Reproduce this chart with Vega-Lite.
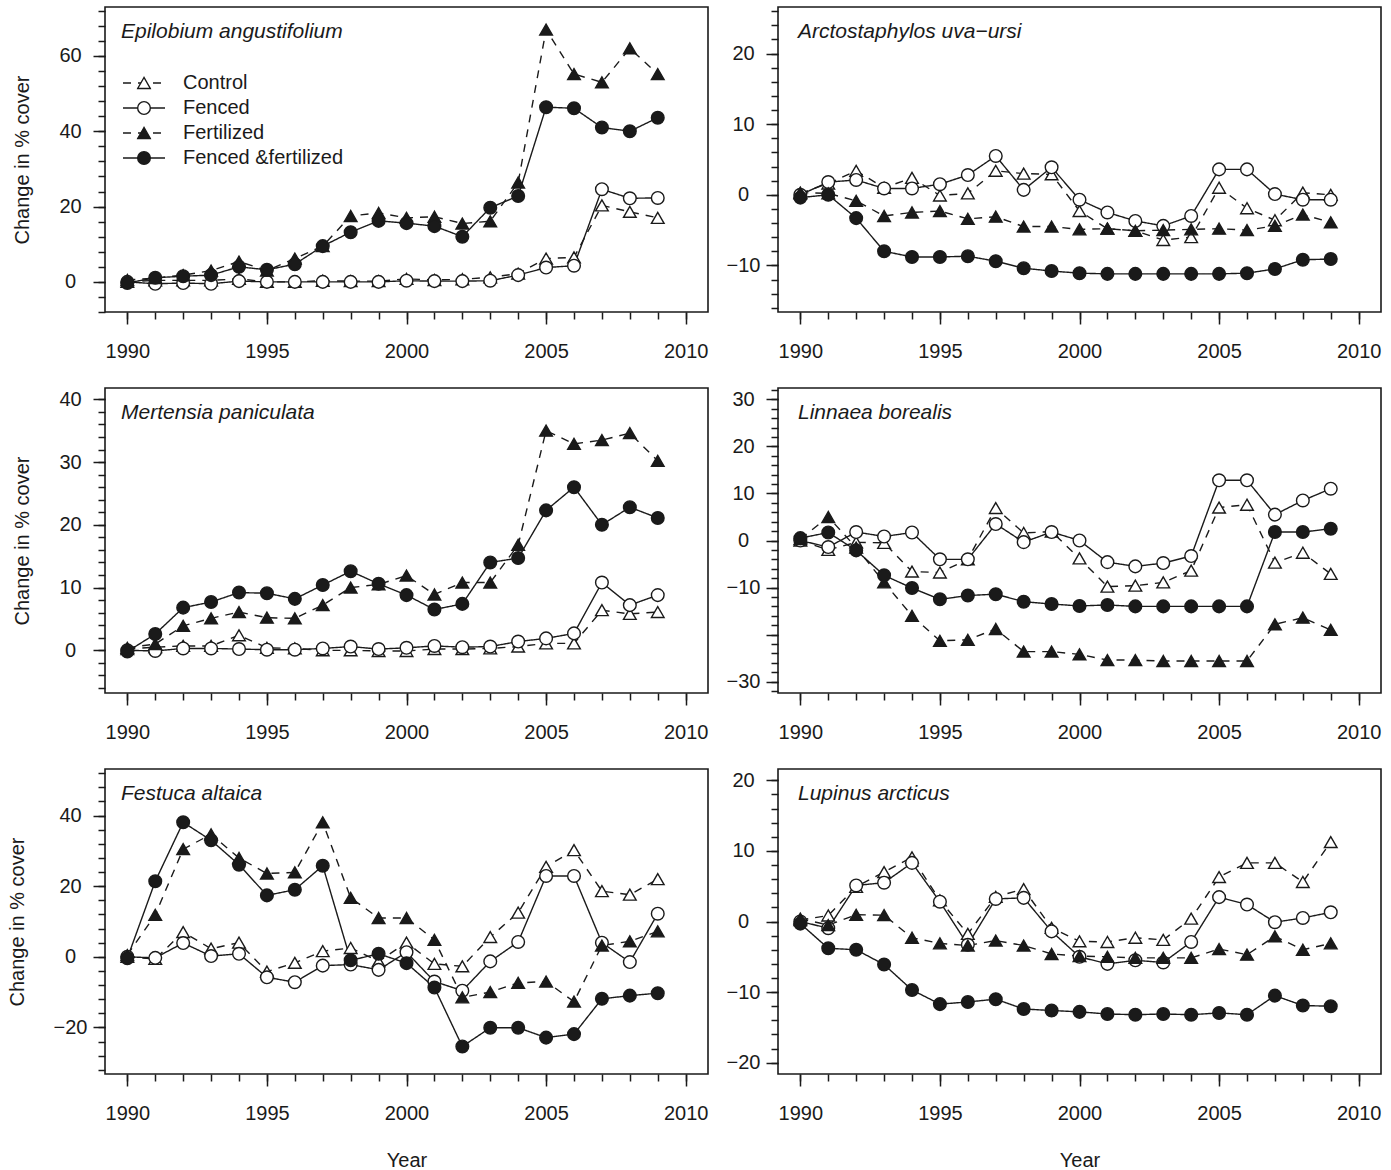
{
  "$schema": "https://vega.github.io/schema/vega-lite/v6.json",
  "background": "white",
  "padding": {"left": 6, "top": 6, "right": 5, "bottom": 5},
  "config": {
    "font": "Liberation Sans",
    "view": {"stroke": "#1a1a1a", "strokeWidth": 1.6},
    "axis": {
      "grid": false, "domain": false,
      "labelFont": "Liberation Sans", "labelFontSize": 20, "labelColor": "#1a1a1a",
      "tickColor": "#1a1a1a", "tickWidth": 1.5,
      "titleFont": "Liberation Sans", "titleFontSize": 20, "titleFontWeight": "normal", "titleColor": "#1a1a1a"
    },
    "legend": {"labelFont": "Liberation Sans", "labelColor": "#1a1a1a"},
    "title": {
      "font": "Liberation Sans", "fontSize": 21, "fontStyle": "italic", "fontWeight": "normal",
      "color": "#1a1a1a", "anchor": "start", "frame": "group", "offset": -35, "baseline": "alphabetic"
    }
  },
  "datasets": {
    "epilobium": [
      {"treatment":"Control","year":1990,"value":0},{"treatment":"Control","year":1991,"value":0.4},{"treatment":"Control","year":1992,"value":0.4},{"treatment":"Control","year":1993,"value":0.4},{"treatment":"Control","year":1994,"value":0.8},{"treatment":"Control","year":1995,"value":0},{"treatment":"Control","year":1996,"value":0},{"treatment":"Control","year":1997,"value":0.3},{"treatment":"Control","year":1998,"value":0.2},{"treatment":"Control","year":1999,"value":0.2},{"treatment":"Control","year":2000,"value":0.8},{"treatment":"Control","year":2001,"value":0.5},{"treatment":"Control","year":2002,"value":0.7},{"treatment":"Control","year":2003,"value":1.2},{"treatment":"Control","year":2004,"value":2.2},{"treatment":"Control","year":2005,"value":6.2},{"treatment":"Control","year":2006,"value":6.5},{"treatment":"Control","year":2007,"value":20.3},{"treatment":"Control","year":2008,"value":18.6},{"treatment":"Control","year":2009,"value":17.0},
      {"treatment":"Fenced","year":1990,"value":0},{"treatment":"Fenced","year":1991,"value":-0.5},{"treatment":"Fenced","year":1992,"value":-0.3},{"treatment":"Fenced","year":1993,"value":-0.5},{"treatment":"Fenced","year":1994,"value":0.2},{"treatment":"Fenced","year":1995,"value":0},{"treatment":"Fenced","year":1996,"value":0},{"treatment":"Fenced","year":1997,"value":0},{"treatment":"Fenced","year":1998,"value":0},{"treatment":"Fenced","year":1999,"value":0},{"treatment":"Fenced","year":2000,"value":0.3},{"treatment":"Fenced","year":2001,"value":0.2},{"treatment":"Fenced","year":2002,"value":0.2},{"treatment":"Fenced","year":2003,"value":0.3},{"treatment":"Fenced","year":2004,"value":1.8},{"treatment":"Fenced","year":2005,"value":3.8},{"treatment":"Fenced","year":2006,"value":4.3},{"treatment":"Fenced","year":2007,"value":24.6},{"treatment":"Fenced","year":2008,"value":22.2},{"treatment":"Fenced","year":2009,"value":22.3},
      {"treatment":"Fertilized","year":1990,"value":0.5},{"treatment":"Fertilized","year":1991,"value":1.0},{"treatment":"Fertilized","year":1992,"value":1.8},{"treatment":"Fertilized","year":1993,"value":3.0},{"treatment":"Fertilized","year":1994,"value":5.4},{"treatment":"Fertilized","year":1995,"value":3.0},{"treatment":"Fertilized","year":1996,"value":6.2},{"treatment":"Fertilized","year":1997,"value":9.5},{"treatment":"Fertilized","year":1998,"value":17.5},{"treatment":"Fertilized","year":1999,"value":18.3},{"treatment":"Fertilized","year":2000,"value":17.0},{"treatment":"Fertilized","year":2001,"value":17.3},{"treatment":"Fertilized","year":2002,"value":15.5},{"treatment":"Fertilized","year":2003,"value":16.1},{"treatment":"Fertilized","year":2004,"value":26.4},{"treatment":"Fertilized","year":2005,"value":67.0},{"treatment":"Fertilized","year":2006,"value":55.2},{"treatment":"Fertilized","year":2007,"value":53.0},{"treatment":"Fertilized","year":2008,"value":62.0},{"treatment":"Fertilized","year":2009,"value":55.2},
      {"treatment":"Fenced &fertilized","year":1990,"value":-0.3},{"treatment":"Fenced &fertilized","year":1991,"value":1.1},{"treatment":"Fenced &fertilized","year":1992,"value":1.5},{"treatment":"Fenced &fertilized","year":1993,"value":1.8},{"treatment":"Fenced &fertilized","year":1994,"value":4.0},{"treatment":"Fenced &fertilized","year":1995,"value":3.2},{"treatment":"Fenced &fertilized","year":1996,"value":4.7},{"treatment":"Fenced &fertilized","year":1997,"value":9.5},{"treatment":"Fenced &fertilized","year":1998,"value":13.2},{"treatment":"Fenced &fertilized","year":1999,"value":16.2},{"treatment":"Fenced &fertilized","year":2000,"value":15.6},{"treatment":"Fenced &fertilized","year":2001,"value":14.8},{"treatment":"Fenced &fertilized","year":2002,"value":12.0},{"treatment":"Fenced &fertilized","year":2003,"value":19.7},{"treatment":"Fenced &fertilized","year":2004,"value":22.8},{"treatment":"Fenced &fertilized","year":2005,"value":46.4},{"treatment":"Fenced &fertilized","year":2006,"value":46.1},{"treatment":"Fenced &fertilized","year":2007,"value":41.0},{"treatment":"Fenced &fertilized","year":2008,"value":40.0},{"treatment":"Fenced &fertilized","year":2009,"value":43.6}
    ],
    "arctostaphylos": [
      {"treatment":"Control","year":1990,"value":0.2},{"treatment":"Control","year":1991,"value":1.6},{"treatment":"Control","year":1992,"value":3.4},{"treatment":"Control","year":1993,"value":1.0},{"treatment":"Control","year":1994,"value":2.4},{"treatment":"Control","year":1995,"value":-0.1},{"treatment":"Control","year":1996,"value":0.2},{"treatment":"Control","year":1997,"value":3.4},{"treatment":"Control","year":1998,"value":3.0},{"treatment":"Control","year":1999,"value":2.9},{"treatment":"Control","year":2000,"value":-2.3},{"treatment":"Control","year":2001,"value":-4.8},{"treatment":"Control","year":2002,"value":-5.1},{"treatment":"Control","year":2003,"value":-6.4},{"treatment":"Control","year":2004,"value":-6.0},{"treatment":"Control","year":2005,"value":1.0},{"treatment":"Control","year":2006,"value":-1.9},{"treatment":"Control","year":2007,"value":-3.6},{"treatment":"Control","year":2008,"value":0.3},{"treatment":"Control","year":2009,"value":0},
      {"treatment":"Fenced","year":1990,"value":0},{"treatment":"Fenced","year":1991,"value":1.8},{"treatment":"Fenced","year":1992,"value":2.1},{"treatment":"Fenced","year":1993,"value":0.9},{"treatment":"Fenced","year":1994,"value":0.9},{"treatment":"Fenced","year":1995,"value":1.5},{"treatment":"Fenced","year":1996,"value":2.8},{"treatment":"Fenced","year":1997,"value":5.5},{"treatment":"Fenced","year":1998,"value":0.7},{"treatment":"Fenced","year":1999,"value":3.9},{"treatment":"Fenced","year":2000,"value":-0.7},{"treatment":"Fenced","year":2001,"value":-2.5},{"treatment":"Fenced","year":2002,"value":-3.7},{"treatment":"Fenced","year":2003,"value":-4.4},{"treatment":"Fenced","year":2004,"value":-3.0},{"treatment":"Fenced","year":2005,"value":3.6},{"treatment":"Fenced","year":2006,"value":3.6},{"treatment":"Fenced","year":2007,"value":0.1},{"treatment":"Fenced","year":2008,"value":-0.7},{"treatment":"Fenced","year":2009,"value":-0.7},
      {"treatment":"Fertilized","year":1990,"value":0.3},{"treatment":"Fertilized","year":1991,"value":0.2},{"treatment":"Fertilized","year":1992,"value":-0.85},{"treatment":"Fertilized","year":1993,"value":-3.0},{"treatment":"Fertilized","year":1994,"value":-2.5},{"treatment":"Fertilized","year":1995,"value":-2.3},{"treatment":"Fertilized","year":1996,"value":-3.4},{"treatment":"Fertilized","year":1997,"value":-3.1},{"treatment":"Fertilized","year":1998,"value":-4.5},{"treatment":"Fertilized","year":1999,"value":-4.5},{"treatment":"Fertilized","year":2000,"value":-4.9},{"treatment":"Fertilized","year":2001,"value":-4.8},{"treatment":"Fertilized","year":2002,"value":-5.1},{"treatment":"Fertilized","year":2003,"value":-5.0},{"treatment":"Fertilized","year":2004,"value":-4.9},{"treatment":"Fertilized","year":2005,"value":-4.8},{"treatment":"Fertilized","year":2006,"value":-5.0},{"treatment":"Fertilized","year":2007,"value":-4.4},{"treatment":"Fertilized","year":2008,"value":-2.8},{"treatment":"Fertilized","year":2009,"value":-3.9},
      {"treatment":"Fenced &fertilized","year":1990,"value":-0.4},{"treatment":"Fenced &fertilized","year":1991,"value":0},{"treatment":"Fenced &fertilized","year":1992,"value":-3.3},{"treatment":"Fenced &fertilized","year":1993,"value":-8.0},{"treatment":"Fenced &fertilized","year":1994,"value":-8.8},{"treatment":"Fenced &fertilized","year":1995,"value":-8.8},{"treatment":"Fenced &fertilized","year":1996,"value":-8.7},{"treatment":"Fenced &fertilized","year":1997,"value":-9.4},{"treatment":"Fenced &fertilized","year":1998,"value":-10.4},{"treatment":"Fenced &fertilized","year":1999,"value":-10.8},{"treatment":"Fenced &fertilized","year":2000,"value":-11.1},{"treatment":"Fenced &fertilized","year":2001,"value":-11.2},{"treatment":"Fenced &fertilized","year":2002,"value":-11.2},{"treatment":"Fenced &fertilized","year":2003,"value":-11.2},{"treatment":"Fenced &fertilized","year":2004,"value":-11.2},{"treatment":"Fenced &fertilized","year":2005,"value":-11.2},{"treatment":"Fenced &fertilized","year":2006,"value":-11.1},{"treatment":"Fenced &fertilized","year":2007,"value":-10.5},{"treatment":"Fenced &fertilized","year":2008,"value":-9.2},{"treatment":"Fenced &fertilized","year":2009,"value":-9.1}
    ],
    "mertensia": [
      {"treatment":"Control","year":1990,"value":0.2},{"treatment":"Control","year":1991,"value":0.5},{"treatment":"Control","year":1992,"value":0.7},{"treatment":"Control","year":1993,"value":0.7},{"treatment":"Control","year":1994,"value":2.4},{"treatment":"Control","year":1995,"value":0.4},{"treatment":"Control","year":1996,"value":0.3},{"treatment":"Control","year":1997,"value":0},{"treatment":"Control","year":1998,"value":0},{"treatment":"Control","year":1999,"value":-0.1},{"treatment":"Control","year":2000,"value":-0.1},{"treatment":"Control","year":2001,"value":0.2},{"treatment":"Control","year":2002,"value":0.2},{"treatment":"Control","year":2003,"value":0.3},{"treatment":"Control","year":2004,"value":0.6},{"treatment":"Control","year":2005,"value":1.1},{"treatment":"Control","year":2006,"value":1.1},{"treatment":"Control","year":2007,"value":6.4},{"treatment":"Control","year":2008,"value":5.8},{"treatment":"Control","year":2009,"value":6.1},
      {"treatment":"Fenced","year":1990,"value":0},{"treatment":"Fenced","year":1991,"value":-0.1},{"treatment":"Fenced","year":1992,"value":0.3},{"treatment":"Fenced","year":1993,"value":0.3},{"treatment":"Fenced","year":1994,"value":0.2},{"treatment":"Fenced","year":1995,"value":0.1},{"treatment":"Fenced","year":1996,"value":0.1},{"treatment":"Fenced","year":1997,"value":0.3},{"treatment":"Fenced","year":1998,"value":0.6},{"treatment":"Fenced","year":1999,"value":0.2},{"treatment":"Fenced","year":2000,"value":0.4},{"treatment":"Fenced","year":2001,"value":0.7},{"treatment":"Fenced","year":2002,"value":0.5},{"treatment":"Fenced","year":2003,"value":0.6},{"treatment":"Fenced","year":2004,"value":1.4},{"treatment":"Fenced","year":2005,"value":1.9},{"treatment":"Fenced","year":2006,"value":2.7},{"treatment":"Fenced","year":2007,"value":10.8},{"treatment":"Fenced","year":2008,"value":7.2},{"treatment":"Fenced","year":2009,"value":8.8},
      {"treatment":"Fertilized","year":1990,"value":0.4},{"treatment":"Fertilized","year":1991,"value":1.0},{"treatment":"Fertilized","year":1992,"value":3.9},{"treatment":"Fertilized","year":1993,"value":5.1},{"treatment":"Fertilized","year":1994,"value":6.1},{"treatment":"Fertilized","year":1995,"value":5.2},{"treatment":"Fertilized","year":1996,"value":5.1},{"treatment":"Fertilized","year":1997,"value":7.2},{"treatment":"Fertilized","year":1998,"value":10.0},{"treatment":"Fertilized","year":1999,"value":10.5},{"treatment":"Fertilized","year":2000,"value":11.9},{"treatment":"Fertilized","year":2001,"value":8.9},{"treatment":"Fertilized","year":2002,"value":10.8},{"treatment":"Fertilized","year":2003,"value":10.8},{"treatment":"Fertilized","year":2004,"value":16.8},{"treatment":"Fertilized","year":2005,"value":35.0},{"treatment":"Fertilized","year":2006,"value":32.9},{"treatment":"Fertilized","year":2007,"value":33.5},{"treatment":"Fertilized","year":2008,"value":34.6},{"treatment":"Fertilized","year":2009,"value":30.2},
      {"treatment":"Fenced &fertilized","year":1990,"value":-0.2},{"treatment":"Fenced &fertilized","year":1991,"value":2.6},{"treatment":"Fenced &fertilized","year":1992,"value":6.8},{"treatment":"Fenced &fertilized","year":1993,"value":7.7},{"treatment":"Fenced &fertilized","year":1994,"value":9.2},{"treatment":"Fenced &fertilized","year":1995,"value":9.1},{"treatment":"Fenced &fertilized","year":1996,"value":8.2},{"treatment":"Fenced &fertilized","year":1997,"value":10.4},{"treatment":"Fenced &fertilized","year":1998,"value":12.6},{"treatment":"Fenced &fertilized","year":1999,"value":10.6},{"treatment":"Fenced &fertilized","year":2000,"value":8.8},{"treatment":"Fenced &fertilized","year":2001,"value":6.5},{"treatment":"Fenced &fertilized","year":2002,"value":7.4},{"treatment":"Fenced &fertilized","year":2003,"value":14.0},{"treatment":"Fenced &fertilized","year":2004,"value":14.7},{"treatment":"Fenced &fertilized","year":2005,"value":22.3},{"treatment":"Fenced &fertilized","year":2006,"value":26.0},{"treatment":"Fenced &fertilized","year":2007,"value":20.0},{"treatment":"Fenced &fertilized","year":2008,"value":22.8},{"treatment":"Fenced &fertilized","year":2009,"value":21.1}
    ],
    "linnaea": [
      {"treatment":"Control","year":1990,"value":0},{"treatment":"Control","year":1991,"value":-2.0},{"treatment":"Control","year":1992,"value":-0.4},{"treatment":"Control","year":1993,"value":-0.5},{"treatment":"Control","year":1994,"value":-6.6},{"treatment":"Control","year":1995,"value":-6.8},{"treatment":"Control","year":1996,"value":-4.0},{"treatment":"Control","year":1997,"value":6.9},{"treatment":"Control","year":1998,"value":1.6},{"treatment":"Control","year":1999,"value":1.9},{"treatment":"Control","year":2000,"value":-3.8},{"treatment":"Control","year":2001,"value":-9.8},{"treatment":"Control","year":2002,"value":-9.6},{"treatment":"Control","year":2003,"value":-8.9},{"treatment":"Control","year":2004,"value":-6.4},{"treatment":"Control","year":2005,"value":7.0},{"treatment":"Control","year":2006,"value":7.6},{"treatment":"Control","year":2007,"value":-4.7},{"treatment":"Control","year":2008,"value":-2.6},{"treatment":"Control","year":2009,"value":-7.1},
      {"treatment":"Fenced","year":1990,"value":0},{"treatment":"Fenced","year":1991,"value":-1.4},{"treatment":"Fenced","year":1992,"value":1.8},{"treatment":"Fenced","year":1993,"value":0.85},{"treatment":"Fenced","year":1994,"value":1.7},{"treatment":"Fenced","year":1995,"value":-4.0},{"treatment":"Fenced","year":1996,"value":-4.0},{"treatment":"Fenced","year":1997,"value":3.5},{"treatment":"Fenced","year":1998,"value":-0.35},{"treatment":"Fenced","year":1999,"value":1.8},{"treatment":"Fenced","year":2000,"value":0},{"treatment":"Fenced","year":2001,"value":-4.6},{"treatment":"Fenced","year":2002,"value":-5.5},{"treatment":"Fenced","year":2003,"value":-4.8},{"treatment":"Fenced","year":2004,"value":-3.3},{"treatment":"Fenced","year":2005,"value":12.8},{"treatment":"Fenced","year":2006,"value":12.8},{"treatment":"Fenced","year":2007,"value":5.5},{"treatment":"Fenced","year":2008,"value":8.5},{"treatment":"Fenced","year":2009,"value":11.0},
      {"treatment":"Fertilized","year":1990,"value":0.3},{"treatment":"Fertilized","year":1991,"value":5.0},{"treatment":"Fertilized","year":1992,"value":-1.5},{"treatment":"Fertilized","year":1993,"value":-8.9},{"treatment":"Fertilized","year":1994,"value":-16.0},{"treatment":"Fertilized","year":1995,"value":-21.3},{"treatment":"Fertilized","year":1996,"value":-21.1},{"treatment":"Fertilized","year":1997,"value":-18.8},{"treatment":"Fertilized","year":1998,"value":-23.6},{"treatment":"Fertilized","year":1999,"value":-23.6},{"treatment":"Fertilized","year":2000,"value":-24.2},{"treatment":"Fertilized","year":2001,"value":-25.4},{"treatment":"Fertilized","year":2002,"value":-25.4},{"treatment":"Fertilized","year":2003,"value":-25.6},{"treatment":"Fertilized","year":2004,"value":-25.6},{"treatment":"Fertilized","year":2005,"value":-25.6},{"treatment":"Fertilized","year":2006,"value":-25.6},{"treatment":"Fertilized","year":2007,"value":-17.8},{"treatment":"Fertilized","year":2008,"value":-16.4},{"treatment":"Fertilized","year":2009,"value":-19.0},
      {"treatment":"Fenced &fertilized","year":1990,"value":0.5},{"treatment":"Fenced &fertilized","year":1991,"value":1.7},{"treatment":"Fenced &fertilized","year":1992,"value":-2.1},{"treatment":"Fenced &fertilized","year":1993,"value":-7.4},{"treatment":"Fenced &fertilized","year":1994,"value":-10.1},{"treatment":"Fenced &fertilized","year":1995,"value":-12.5},{"treatment":"Fenced &fertilized","year":1996,"value":-11.7},{"treatment":"Fenced &fertilized","year":1997,"value":-11.4},{"treatment":"Fenced &fertilized","year":1998,"value":-13.0},{"treatment":"Fenced &fertilized","year":1999,"value":-13.5},{"treatment":"Fenced &fertilized","year":2000,"value":-13.9},{"treatment":"Fenced &fertilized","year":2001,"value":-13.7},{"treatment":"Fenced &fertilized","year":2002,"value":-14.0},{"treatment":"Fenced &fertilized","year":2003,"value":-14.0},{"treatment":"Fenced &fertilized","year":2004,"value":-14.0},{"treatment":"Fenced &fertilized","year":2005,"value":-14.0},{"treatment":"Fenced &fertilized","year":2006,"value":-14.0},{"treatment":"Fenced &fertilized","year":2007,"value":1.8},{"treatment":"Fenced &fertilized","year":2008,"value":1.8},{"treatment":"Fenced &fertilized","year":2009,"value":2.5}
    ],
    "festuca": [
      {"treatment":"Control","year":1990,"value":0},{"treatment":"Control","year":1991,"value":-0.6},{"treatment":"Control","year":1992,"value":7.0},{"treatment":"Control","year":1993,"value":2.3},{"treatment":"Control","year":1994,"value":4.0},{"treatment":"Control","year":1995,"value":-4.2},{"treatment":"Control","year":1996,"value":-1.7},{"treatment":"Control","year":1997,"value":1.6},{"treatment":"Control","year":1998,"value":2.5},{"treatment":"Control","year":1999,"value":-1.3},{"treatment":"Control","year":2000,"value":4.0},{"treatment":"Control","year":2001,"value":-2.0},{"treatment":"Control","year":2002,"value":-2.7},{"treatment":"Control","year":2003,"value":5.6},{"treatment":"Control","year":2004,"value":12.5},{"treatment":"Control","year":2005,"value":25.5},{"treatment":"Control","year":2006,"value":30.2},{"treatment":"Control","year":2007,"value":18.6},{"treatment":"Control","year":2008,"value":17.6},{"treatment":"Control","year":2009,"value":22.0},
      {"treatment":"Fenced","year":1990,"value":0},{"treatment":"Fenced","year":1991,"value":-0.3},{"treatment":"Fenced","year":1992,"value":3.9},{"treatment":"Fenced","year":1993,"value":0.2},{"treatment":"Fenced","year":1994,"value":0.85},{"treatment":"Fenced","year":1995,"value":-5.8},{"treatment":"Fenced","year":1996,"value":-7.2},{"treatment":"Fenced","year":1997,"value":-2.5},{"treatment":"Fenced","year":1998,"value":-2.2},{"treatment":"Fenced","year":1999,"value":-3.7},{"treatment":"Fenced","year":2000,"value":1.3},{"treatment":"Fenced","year":2001,"value":-7.0},{"treatment":"Fenced","year":2002,"value":-9.6},{"treatment":"Fenced","year":2003,"value":-1.3},{"treatment":"Fenced","year":2004,"value":4.2},{"treatment":"Fenced","year":2005,"value":22.9},{"treatment":"Fenced","year":2006,"value":22.9},{"treatment":"Fenced","year":2007,"value":4.0},{"treatment":"Fenced","year":2008,"value":-1.5},{"treatment":"Fenced","year":2009,"value":12.2},
      {"treatment":"Fertilized","year":1990,"value":0.5},{"treatment":"Fertilized","year":1991,"value":11.9},{"treatment":"Fertilized","year":1992,"value":30.5},{"treatment":"Fertilized","year":1993,"value":34.7},{"treatment":"Fertilized","year":1994,"value":28.0},{"treatment":"Fertilized","year":1995,"value":23.6},{"treatment":"Fertilized","year":1996,"value":23.9},{"treatment":"Fertilized","year":1997,"value":38.1},{"treatment":"Fertilized","year":1998,"value":16.7},{"treatment":"Fertilized","year":1999,"value":11.0},{"treatment":"Fertilized","year":2000,"value":11.0},{"treatment":"Fertilized","year":2001,"value":4.8},{"treatment":"Fertilized","year":2002,"value":-11.5},{"treatment":"Fertilized","year":2003,"value":-10.0},{"treatment":"Fertilized","year":2004,"value":-7.4},{"treatment":"Fertilized","year":2005,"value":-7.0},{"treatment":"Fertilized","year":2006,"value":-12.7},{"treatment":"Fertilized","year":2007,"value":3.2},{"treatment":"Fertilized","year":2008,"value":4.4},{"treatment":"Fertilized","year":2009,"value":7.2},
      {"treatment":"Fenced &fertilized","year":1990,"value":-0.4},{"treatment":"Fenced &fertilized","year":1991,"value":21.4},{"treatment":"Fenced &fertilized","year":1992,"value":38.1},{"treatment":"Fenced &fertilized","year":1993,"value":33.0},{"treatment":"Fenced &fertilized","year":1994,"value":26.1},{"treatment":"Fenced &fertilized","year":1995,"value":17.4},{"treatment":"Fenced &fertilized","year":1996,"value":19.0},{"treatment":"Fenced &fertilized","year":1997,"value":25.8},{"treatment":"Fenced &fertilized","year":1998,"value":-1.0},{"treatment":"Fenced &fertilized","year":1999,"value":0.85},{"treatment":"Fenced &fertilized","year":2000,"value":-1.8},{"treatment":"Fenced &fertilized","year":2001,"value":-8.7},{"treatment":"Fenced &fertilized","year":2002,"value":-25.4},{"treatment":"Fenced &fertilized","year":2003,"value":-20.1},{"treatment":"Fenced &fertilized","year":2004,"value":-20.1},{"treatment":"Fenced &fertilized","year":2005,"value":-22.9},{"treatment":"Fenced &fertilized","year":2006,"value":-21.9},{"treatment":"Fenced &fertilized","year":2007,"value":-11.9},{"treatment":"Fenced &fertilized","year":2008,"value":-11.0},{"treatment":"Fenced &fertilized","year":2009,"value":-10.3}
    ],
    "lupinus": [
      {"treatment":"Control","year":1990,"value":0.2},{"treatment":"Control","year":1991,"value":0.85},{"treatment":"Control","year":1992,"value":4.9},{"treatment":"Control","year":1993,"value":7.0},{"treatment":"Control","year":1994,"value":9.1},{"treatment":"Control","year":1995,"value":3.0},{"treatment":"Control","year":1996,"value":-1.75},{"treatment":"Control","year":1997,"value":3.5},{"treatment":"Control","year":1998,"value":4.6},{"treatment":"Control","year":1999,"value":-0.9},{"treatment":"Control","year":2000,"value":-2.8},{"treatment":"Control","year":2001,"value":-2.9},{"treatment":"Control","year":2002,"value":-2.3},{"treatment":"Control","year":2003,"value":-2.6},{"treatment":"Control","year":2004,"value":0.4},{"treatment":"Control","year":2005,"value":6.3},{"treatment":"Control","year":2006,"value":8.3},{"treatment":"Control","year":2007,"value":8.3},{"treatment":"Control","year":2008,"value":5.6},{"treatment":"Control","year":2009,"value":11.25},
      {"treatment":"Fenced","year":1990,"value":0},{"treatment":"Fenced","year":1991,"value":-0.95},{"treatment":"Fenced","year":1992,"value":5.1},{"treatment":"Fenced","year":1993,"value":5.5},{"treatment":"Fenced","year":1994,"value":8.3},{"treatment":"Fenced","year":1995,"value":2.8},{"treatment":"Fenced","year":1996,"value":-3.3},{"treatment":"Fenced","year":1997,"value":3.2},{"treatment":"Fenced","year":1998,"value":3.35},{"treatment":"Fenced","year":1999,"value":-1.4},{"treatment":"Fenced","year":2000,"value":-5.0},{"treatment":"Fenced","year":2001,"value":-6.0},{"treatment":"Fenced","year":2002,"value":-5.5},{"treatment":"Fenced","year":2003,"value":-5.8},{"treatment":"Fenced","year":2004,"value":-2.9},{"treatment":"Fenced","year":2005,"value":3.45},{"treatment":"Fenced","year":2006,"value":2.4},{"treatment":"Fenced","year":2007,"value":-0.1},{"treatment":"Fenced","year":2008,"value":0.5},{"treatment":"Fenced","year":2009,"value":1.3},
      {"treatment":"Fertilized","year":1990,"value":0.4},{"treatment":"Fertilized","year":1991,"value":-0.5},{"treatment":"Fertilized","year":1992,"value":0.95},{"treatment":"Fertilized","year":1993,"value":0.9},{"treatment":"Fertilized","year":1994,"value":-2.3},{"treatment":"Fertilized","year":1995,"value":-3.1},{"treatment":"Fertilized","year":1996,"value":-3.4},{"treatment":"Fertilized","year":1997,"value":-2.7},{"treatment":"Fertilized","year":1998,"value":-3.4},{"treatment":"Fertilized","year":1999,"value":-4.6},{"treatment":"Fertilized","year":2000,"value":-4.9},{"treatment":"Fertilized","year":2001,"value":-5.0},{"treatment":"Fertilized","year":2002,"value":-5.15},{"treatment":"Fertilized","year":2003,"value":-5.15},{"treatment":"Fertilized","year":2004,"value":-5.15},{"treatment":"Fertilized","year":2005,"value":-3.9},{"treatment":"Fertilized","year":2006,"value":-4.7},{"treatment":"Fertilized","year":2007,"value":-2.1},{"treatment":"Fertilized","year":2008,"value":-4.0},{"treatment":"Fertilized","year":2009,"value":-3.1},
      {"treatment":"Fenced &fertilized","year":1990,"value":-0.3},{"treatment":"Fenced &fertilized","year":1991,"value":-3.8},{"treatment":"Fenced &fertilized","year":1992,"value":-4.0},{"treatment":"Fenced &fertilized","year":1993,"value":-6.1},{"treatment":"Fenced &fertilized","year":1994,"value":-9.7},{"treatment":"Fenced &fertilized","year":1995,"value":-11.7},{"treatment":"Fenced &fertilized","year":1996,"value":-11.4},{"treatment":"Fenced &fertilized","year":1997,"value":-11.0},{"treatment":"Fenced &fertilized","year":1998,"value":-12.4},{"treatment":"Fenced &fertilized","year":1999,"value":-12.6},{"treatment":"Fenced &fertilized","year":2000,"value":-12.8},{"treatment":"Fenced &fertilized","year":2001,"value":-13.1},{"treatment":"Fenced &fertilized","year":2002,"value":-13.2},{"treatment":"Fenced &fertilized","year":2003,"value":-13.1},{"treatment":"Fenced &fertilized","year":2004,"value":-13.2},{"treatment":"Fenced &fertilized","year":2005,"value":-12.95},{"treatment":"Fenced &fertilized","year":2006,"value":-13.2},{"treatment":"Fenced &fertilized","year":2007,"value":-10.5},{"treatment":"Fenced &fertilized","year":2008,"value":-11.9},{"treatment":"Fenced &fertilized","year":2009,"value":-12.0}
    ]
  },
  "columns": 2,
  "spacing": {"row": 76, "column": 70},
  "bounds": "flush",
  "resolve": {"scale": {"x": "independent", "y": "independent", "strokeDash": "independent", "shape": "independent", "fill": "independent", "stroke": "independent"}},
  "concat": [
    {
      "width": 603, "height": 305,
      "data": {"name": "epilobium"},
      "title": {"text": "Epilobium angustifolium", "dx": 16},
      "layer": [
        {
          "mark": {"type": "line", "strokeWidth": 1.4, "color": "#1a1a1a"},
          "encoding": {
            "x": {"field": "year", "type": "quantitative", "scale": {"domain": [1989.2, 2010.8], "nice": false, "zero": false},
                  "axis": {"values": [1990, 1995, 2000, 2005, 2010], "format": "d", "tickSize": 12, "labelPadding": 17, "title": null}},
            "y": {"field": "value", "type": "quantitative", "scale": {"domain": [-8, 73], "nice": false, "zero": false},
                  "axis": {"values": [0, 20, 40, 60], "tickSize": 12, "labelPadding": 23, "labelAlign": "center", "title": "Change in % cover", "titlePadding": 26}},
            "strokeDash": {"field": "treatment", "type": "nominal", "sort": ["Control", "Fenced", "Fertilized", "Fenced &fertilized"],
                  "scale": {"range": [[8, 7], [1, 0], [8, 7], [1, 0]]},
                  "legend": {"title": null, "orient": "none", "legendX": 17, "legendY": 63.5, "symbolType": "stroke", "symbolSize": 1764,
                             "symbolStrokeColor": "#1a1a1a", "symbolStrokeWidth": 1.4, "clipHeight": 25, "rowPadding": 0, "padding": 0,
                             "labelOffset": 17, "labelFontSize": 20, "labelLimit": 400}}
          }
        },
        {
          "mark": {"type": "point", "filled": true, "strokeWidth": 1.4, "size": 160, "opacity": 1},
          "encoding": {
            "x": {"field": "year", "type": "quantitative",
                  "axis": {"values": [1990,1991,1992,1993,1994,1995,1996,1997,1998,1999,2000,2001,2002,2003,2004,2005,2006,2007,2008,2009,2010], "tickSize": 7, "labels": false, "title": null, "orient": "bottom"}},
            "y": {"field": "value", "type": "quantitative",
                  "axis": {"values": [-8,-4,0,4,8,12,16,20,24,28,32,36,40,44,48,52,56,60,64,68,72], "tickSize": 7, "labels": false, "title": null, "orient": "left"}},
            "shape": {"field": "treatment", "type": "nominal",
                  "scale": {"domain": ["Control", "Fenced", "Fertilized", "Fenced &fertilized"], "range": ["triangle-up", "circle", "triangle-up", "circle"]},
                  "legend": {"title": null, "orient": "none", "legendX": 31.5, "legendY": 63.5, "symbolSize": 160,
                             "symbolStrokeWidth": 1.4, "symbolOpacity": 1, "clipHeight": 25, "rowPadding": 0, "padding": 0,
                             "labelExpr": "''", "labelFontSize": 1, "labelOffset": 0, "zindex": 1}},
            "fill": {"field": "treatment", "type": "nominal",
                  "scale": {"domain": ["Control", "Fenced", "Fertilized", "Fenced &fertilized"], "range": ["white", "white", "#1a1a1a", "#1a1a1a"]},
                  "legend": {"title": null, "orient": "none", "legendX": 31.5, "legendY": 63.5, "symbolSize": 160,
                             "symbolStrokeWidth": 1.4, "symbolOpacity": 1, "clipHeight": 25, "rowPadding": 0, "padding": 0,
                             "labelExpr": "''", "labelFontSize": 1, "labelOffset": 0, "zindex": 1}},
            "stroke": {"field": "treatment", "type": "nominal",
                  "scale": {"domain": ["Control", "Fenced", "Fertilized", "Fenced &fertilized"], "range": ["#1a1a1a", "#1a1a1a", "#1a1a1a", "#1a1a1a"]},
                  "legend": {"title": null, "orient": "none", "legendX": 31.5, "legendY": 63.5, "symbolSize": 160,
                             "symbolStrokeWidth": 1.4, "symbolOpacity": 1, "clipHeight": 25, "rowPadding": 0, "padding": 0,
                             "labelExpr": "''", "labelFontSize": 1, "labelOffset": 0, "zindex": 1}}
          }
        }
      ],
      "resolve": {"axis": {"x": "independent", "y": "independent"}}
    },
    {
      "width": 603, "height": 305,
      "data": {"name": "arctostaphylos"},
      "title": {"text": "Arctostaphylos uva−ursi", "dx": 20},
      "layer": [
        {
          "mark": {"type": "line", "strokeWidth": 1.4, "color": "#1a1a1a"},
          "encoding": {
            "x": {"field": "year", "type": "quantitative", "scale": {"domain": [1989.2, 2010.8], "nice": false, "zero": false},
                  "axis": {"values": [1990, 1995, 2000, 2005, 2010], "format": "d", "tickSize": 12, "labelPadding": 17, "title": null}},
            "y": {"field": "value", "type": "quantitative", "scale": {"domain": [-16.6, 26.6], "nice": false, "zero": false},
                  "axis": {"values": [-10, 0, 10, 20], "tickSize": 12, "labelPadding": 23, "labelAlign": "center", "title": null}},
            "strokeDash": {"field": "treatment", "type": "nominal", "sort": ["Control", "Fenced", "Fertilized", "Fenced &fertilized"],
                  "scale": {"range": [[8, 7], [1, 0], [8, 7], [1, 0]]}, "legend": null}
          }
        },
        {
          "mark": {"type": "point", "filled": true, "stroke": "#1a1a1a", "strokeWidth": 1.4, "size": 160, "opacity": 1},
          "encoding": {
            "x": {"field": "year", "type": "quantitative",
                  "axis": {"values": [1990,1991,1992,1993,1994,1995,1996,1997,1998,1999,2000,2001,2002,2003,2004,2005,2006,2007,2008,2009,2010], "tickSize": 7, "labels": false, "title": null, "orient": "bottom"}},
            "y": {"field": "value", "type": "quantitative",
                  "axis": {"values": [-16,-14,-12,-10,-8,-6,-4,-2,0,2,4,6,8,10,12,14,16,18,20,22,24,26], "tickSize": 7, "labels": false, "title": null, "orient": "left"}},
            "shape": {"field": "treatment", "type": "nominal",
                  "scale": {"domain": ["Control", "Fenced", "Fertilized", "Fenced &fertilized"], "range": ["triangle-up", "circle", "triangle-up", "circle"]}, "legend": null},
            "fill": {"field": "treatment", "type": "nominal",
                  "scale": {"domain": ["Control", "Fenced", "Fertilized", "Fenced &fertilized"], "range": ["white", "white", "#1a1a1a", "#1a1a1a"]}, "legend": null}
          }
        }
      ],
      "resolve": {"axis": {"x": "independent", "y": "independent"}}
    },
    {
      "width": 603, "height": 305,
      "data": {"name": "mertensia"},
      "title": {"text": "Mertensia paniculata", "dx": 16},
      "layer": [
        {
          "mark": {"type": "line", "strokeWidth": 1.4, "color": "#1a1a1a"},
          "encoding": {
            "x": {"field": "year", "type": "quantitative", "scale": {"domain": [1989.2, 2010.8], "nice": false, "zero": false},
                  "axis": {"values": [1990, 1995, 2000, 2005, 2010], "format": "d", "tickSize": 12, "labelPadding": 17, "title": null}},
            "y": {"field": "value", "type": "quantitative", "scale": {"domain": [-6.8, 41.8], "nice": false, "zero": false},
                  "axis": {"values": [0, 10, 20, 30, 40], "tickSize": 12, "labelPadding": 23, "labelAlign": "center", "title": "Change in % cover", "titlePadding": 26}},
            "strokeDash": {"field": "treatment", "type": "nominal", "sort": ["Control", "Fenced", "Fertilized", "Fenced &fertilized"],
                  "scale": {"range": [[8, 7], [1, 0], [8, 7], [1, 0]]}, "legend": null}
          }
        },
        {
          "mark": {"type": "point", "filled": true, "stroke": "#1a1a1a", "strokeWidth": 1.4, "size": 160, "opacity": 1},
          "encoding": {
            "x": {"field": "year", "type": "quantitative",
                  "axis": {"values": [1990,1991,1992,1993,1994,1995,1996,1997,1998,1999,2000,2001,2002,2003,2004,2005,2006,2007,2008,2009,2010], "tickSize": 7, "labels": false, "title": null, "orient": "bottom"}},
            "y": {"field": "value", "type": "quantitative",
                  "axis": {"values": [-6,-4,-2,0,2,4,6,8,10,12,14,16,18,20,22,24,26,28,30,32,34,36,38,40], "tickSize": 7, "labels": false, "title": null, "orient": "left"}},
            "shape": {"field": "treatment", "type": "nominal",
                  "scale": {"domain": ["Control", "Fenced", "Fertilized", "Fenced &fertilized"], "range": ["triangle-up", "circle", "triangle-up", "circle"]}, "legend": null},
            "fill": {"field": "treatment", "type": "nominal",
                  "scale": {"domain": ["Control", "Fenced", "Fertilized", "Fenced &fertilized"], "range": ["white", "white", "#1a1a1a", "#1a1a1a"]}, "legend": null}
          }
        }
      ],
      "resolve": {"axis": {"x": "independent", "y": "independent"}}
    },
    {
      "width": 603, "height": 305,
      "data": {"name": "linnaea"},
      "title": {"text": "Linnaea borealis", "dx": 20},
      "layer": [
        {
          "mark": {"type": "line", "strokeWidth": 1.4, "color": "#1a1a1a"},
          "encoding": {
            "x": {"field": "year", "type": "quantitative", "scale": {"domain": [1989.2, 2010.8], "nice": false, "zero": false},
                  "axis": {"values": [1990, 1995, 2000, 2005, 2010], "format": "d", "tickSize": 12, "labelPadding": 17, "title": null}},
            "y": {"field": "value", "type": "quantitative", "scale": {"domain": [-32.4, 32.4], "nice": false, "zero": false},
                  "axis": {"values": [-30, -20, -10, 0, 10, 20, 30], "labelExpr": "datum.value === -20 ? '' : datum.label", "tickSize": 12, "labelPadding": 23, "labelAlign": "center", "title": null}},
            "strokeDash": {"field": "treatment", "type": "nominal", "sort": ["Control", "Fenced", "Fertilized", "Fenced &fertilized"],
                  "scale": {"range": [[8, 7], [1, 0], [8, 7], [1, 0]]}, "legend": null}
          }
        },
        {
          "mark": {"type": "point", "filled": true, "stroke": "#1a1a1a", "strokeWidth": 1.4, "size": 160, "opacity": 1},
          "encoding": {
            "x": {"field": "year", "type": "quantitative",
                  "axis": {"values": [1990,1991,1992,1993,1994,1995,1996,1997,1998,1999,2000,2001,2002,2003,2004,2005,2006,2007,2008,2009,2010], "tickSize": 7, "labels": false, "title": null, "orient": "bottom"}},
            "y": {"field": "value", "type": "quantitative",
                  "axis": {"values": [-32,-30,-28,-26,-24,-22,-20,-18,-16,-14,-12,-10,-8,-6,-4,-2,0,2,4,6,8,10,12,14,16,18,20,22,24,26,28,30,32], "tickSize": 7, "labels": false, "title": null, "orient": "left"}},
            "shape": {"field": "treatment", "type": "nominal",
                  "scale": {"domain": ["Control", "Fenced", "Fertilized", "Fenced &fertilized"], "range": ["triangle-up", "circle", "triangle-up", "circle"]}, "legend": null},
            "fill": {"field": "treatment", "type": "nominal",
                  "scale": {"domain": ["Control", "Fenced", "Fertilized", "Fenced &fertilized"], "range": ["white", "white", "#1a1a1a", "#1a1a1a"]}, "legend": null}
          }
        }
      ],
      "resolve": {"axis": {"x": "independent", "y": "independent"}}
    },
    {
      "width": 603, "height": 305,
      "data": {"name": "festuca"},
      "title": {"text": "Festuca altaica", "dx": 16},
      "layer": [
        {
          "mark": {"type": "line", "strokeWidth": 1.4, "color": "#1a1a1a"},
          "encoding": {
            "x": {"field": "year", "type": "quantitative", "scale": {"domain": [1989.2, 2010.8], "nice": false, "zero": false},
                  "axis": {"values": [1990, 1995, 2000, 2005, 2010], "format": "d", "tickSize": 12, "labelPadding": 17, "title": "Year", "titlePadding": 27}},
            "y": {"field": "value", "type": "quantitative", "scale": {"domain": [-33.2, 53.2], "nice": false, "zero": false},
                  "axis": {"values": [-20, 0, 20, 40], "tickSize": 12, "labelPadding": 23, "labelAlign": "center", "title": "Change in % cover", "titlePadding": 26}},
            "strokeDash": {"field": "treatment", "type": "nominal", "sort": ["Control", "Fenced", "Fertilized", "Fenced &fertilized"],
                  "scale": {"range": [[8, 7], [1, 0], [8, 7], [1, 0]]}, "legend": null}
          }
        },
        {
          "mark": {"type": "point", "filled": true, "stroke": "#1a1a1a", "strokeWidth": 1.4, "size": 160, "opacity": 1},
          "encoding": {
            "x": {"field": "year", "type": "quantitative",
                  "axis": {"values": [1990,1991,1992,1993,1994,1995,1996,1997,1998,1999,2000,2001,2002,2003,2004,2005,2006,2007,2008,2009,2010], "tickSize": 7, "labels": false, "title": null, "orient": "bottom"}},
            "y": {"field": "value", "type": "quantitative",
                  "axis": {"values": [-32,-28,-24,-20,-16,-12,-8,-4,0,4,8,12,16,20,24,28,32,36,40,44,48,52], "tickSize": 7, "labels": false, "title": null, "orient": "left"}},
            "shape": {"field": "treatment", "type": "nominal",
                  "scale": {"domain": ["Control", "Fenced", "Fertilized", "Fenced &fertilized"], "range": ["triangle-up", "circle", "triangle-up", "circle"]}, "legend": null},
            "fill": {"field": "treatment", "type": "nominal",
                  "scale": {"domain": ["Control", "Fenced", "Fertilized", "Fenced &fertilized"], "range": ["white", "white", "#1a1a1a", "#1a1a1a"]}, "legend": null}
          }
        }
      ],
      "resolve": {"axis": {"x": "independent", "y": "independent"}}
    },
    {
      "width": 603, "height": 305,
      "data": {"name": "lupinus"},
      "title": {"text": "Lupinus arcticus", "dx": 20},
      "layer": [
        {
          "mark": {"type": "line", "strokeWidth": 1.4, "color": "#1a1a1a"},
          "encoding": {
            "x": {"field": "year", "type": "quantitative", "scale": {"domain": [1989.2, 2010.8], "nice": false, "zero": false},
                  "axis": {"values": [1990, 1995, 2000, 2005, 2010], "format": "d", "tickSize": 12, "labelPadding": 17, "title": "Year", "titlePadding": 27}},
            "y": {"field": "value", "type": "quantitative", "scale": {"domain": [-21.6, 21.6], "nice": false, "zero": false},
                  "axis": {"values": [-20, -10, 0, 10, 20], "tickSize": 12, "labelPadding": 23, "labelAlign": "center", "title": null}},
            "strokeDash": {"field": "treatment", "type": "nominal", "sort": ["Control", "Fenced", "Fertilized", "Fenced &fertilized"],
                  "scale": {"range": [[8, 7], [1, 0], [8, 7], [1, 0]]}, "legend": null}
          }
        },
        {
          "mark": {"type": "point", "filled": true, "stroke": "#1a1a1a", "strokeWidth": 1.4, "size": 160, "opacity": 1},
          "encoding": {
            "x": {"field": "year", "type": "quantitative",
                  "axis": {"values": [1990,1991,1992,1993,1994,1995,1996,1997,1998,1999,2000,2001,2002,2003,2004,2005,2006,2007,2008,2009,2010], "tickSize": 7, "labels": false, "title": null, "orient": "bottom"}},
            "y": {"field": "value", "type": "quantitative",
                  "axis": {"values": [-20,-18,-16,-14,-12,-10,-8,-6,-4,-2,0,2,4,6,8,10,12,14,16,18,20], "tickSize": 7, "labels": false, "title": null, "orient": "left"}},
            "shape": {"field": "treatment", "type": "nominal",
                  "scale": {"domain": ["Control", "Fenced", "Fertilized", "Fenced &fertilized"], "range": ["triangle-up", "circle", "triangle-up", "circle"]}, "legend": null},
            "fill": {"field": "treatment", "type": "nominal",
                  "scale": {"domain": ["Control", "Fenced", "Fertilized", "Fenced &fertilized"], "range": ["white", "white", "#1a1a1a", "#1a1a1a"]}, "legend": null}
          }
        }
      ],
      "resolve": {"axis": {"x": "independent", "y": "independent"}}
    }
  ]
}
